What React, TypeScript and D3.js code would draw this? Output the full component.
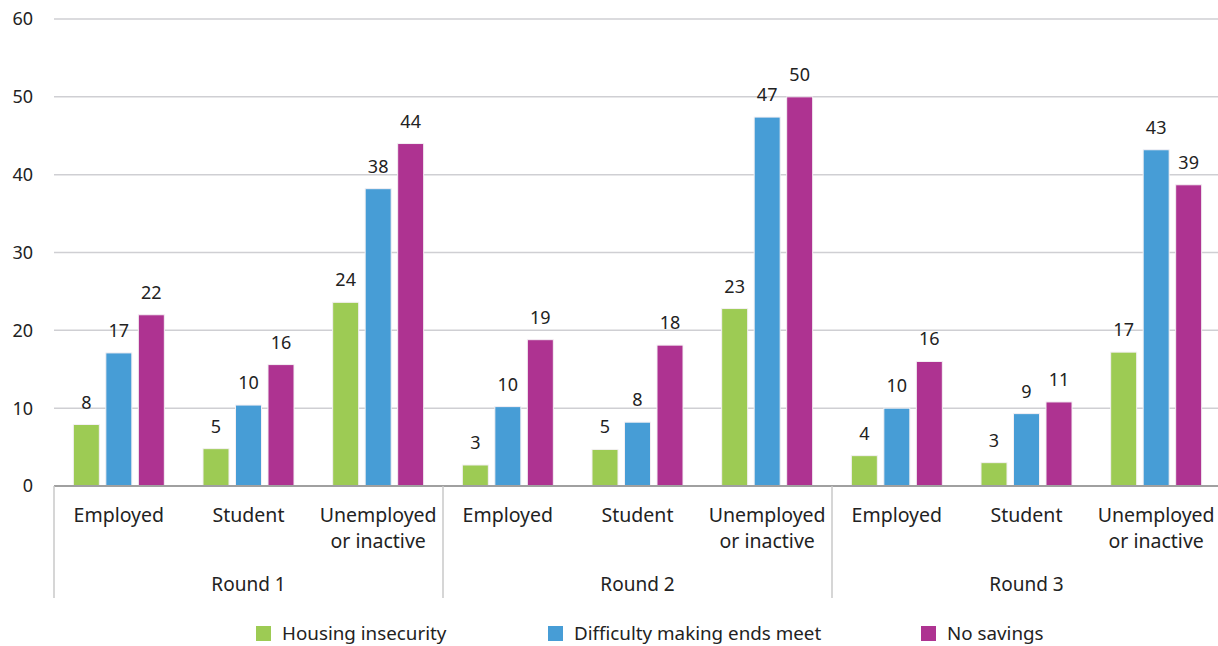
import React from 'react';
import * as d3 from 'd3';

const rounds = ['Round 1', 'Round 2', 'Round 3'];
const statuses = ['Employed', 'Student', 'Unemployed\nor inactive'];
const series = ['Housing insecurity', 'Difficulty making ends meet', 'No savings'];
const colors = ['#9dcb54', '#479dd6', '#ae3391'];

// values per round, in status order
const housing = [7.9, 4.8, 23.6, 2.7, 4.7, 22.8, 3.9, 3.0, 17.2];
const difficulty = [17.1, 10.4, 38.2, 10.2, 8.2, 47.4, 10.0, 9.3, 43.2];
const noSavings = [22.0, 15.6, 44.0, 18.8, 18.1, 50.0, 16.0, 10.8, 38.7];
const labels = [
  [8, 5, 24, 3, 5, 23, 4, 3, 17],
  [17, 10, 38, 10, 8, 47, 10, 9, 43],
  [22, 16, 44, 19, 18, 50, 16, 11, 39],
];
const yTicks = [0, 10, 20, 30, 40, 50, 60];

const W = 1218, H = 646;
const left = 54, right = 1221, y0 = 486, y60 = 19;
const font = '"Noto Sans", sans-serif';

export default function App() {
  const values = [housing, difficulty, noSavings];
  const cats = d3.range(9).map(String);
  const x = d3.scaleBand().domain(cats).range([left, right]);
  const xr = d3.scaleBand().domain(rounds).range([left, right]);
  const inner = d3.scaleBand().domain(series).range([0, x.bandwidth()]).paddingInner(0.2).paddingOuter(0.595);
  const y = d3.scaleLinear().domain([0, 60]).range([y0, y60]);

  return (
    <div style={{ position: 'absolute', left: 0, top: 0 }}>
      <svg width={W} height={H} style={{ display: 'block', fontFamily: font }}>
        {yTicks.map((t) => (
          <g key={t}>
            {t > 0 && <line x1={left} x2={1218} y1={y(t)} y2={y(t)} stroke="#cfcfd3" strokeWidth={1.5} />}
            <text x={33} y={y(t)} dy="0.36em" textAnchor="end" fontSize={18} fill="#222">{t}</text>
          </g>
        ))}
        {series.map((s, si) =>
          cats.map((c, ci) => {
            const v = values[si][ci];
            const bx = x(c)! + inner(s)!;
            return (
              <g key={s + c}>
                <rect x={bx} y={y(v)} width={inner.bandwidth()} height={y0 - y(v)} fill={colors[si]} stroke="#f4f0f4" strokeWidth={1} />
                <text x={bx + inner.bandwidth() / 2} y={y(v) - 16} textAnchor="middle" fontSize={18} fill="#222">{labels[si][ci]}</text>
              </g>
            );
          })
        )}
        <line x1={left} x2={1218} y1={y0} y2={y0} stroke="#a0a0a0" strokeWidth={2} />
        {d3.range(4).map((i) => {
          const xx = i < 3 ? xr(rounds[i])! : right;
          return <line key={i} x1={xx} x2={xx} y1={y0} y2={598} stroke="#c8c8c8" strokeWidth={1.5} />;
        })}
        {cats.map((c, ci) => {
          const lines = statuses[ci % 3].split('\n');
          return (
            <text key={c} x={x(c)! + x.bandwidth() / 2} y={522} textAnchor="middle" fontSize={19.5} fill="#222">
              {lines.map((l, li) => (
                <tspan key={li} x={x(c)! + x.bandwidth() / 2} dy={li === 0 ? 0 : 26}>{l}</tspan>
              ))}
            </text>
          );
        })}
        {rounds.map((r) => (
          <text key={r} x={xr(r)! + xr.bandwidth() / 2} y={591} textAnchor="middle" fontSize={19} fill="#222">{r}</text>
        ))}
        {series.map((s, si) => {
          const lx = [256, 548, 921][si];
          return (
            <g key={s}>
              <rect x={lx} y={626} width={15} height={15} fill={colors[si]} />
              <text x={lx + 26} y={640} fontSize={18.8} fill="#222">{s}</text>
            </g>
          );
        })}
      </svg>
    </div>
  );
}
